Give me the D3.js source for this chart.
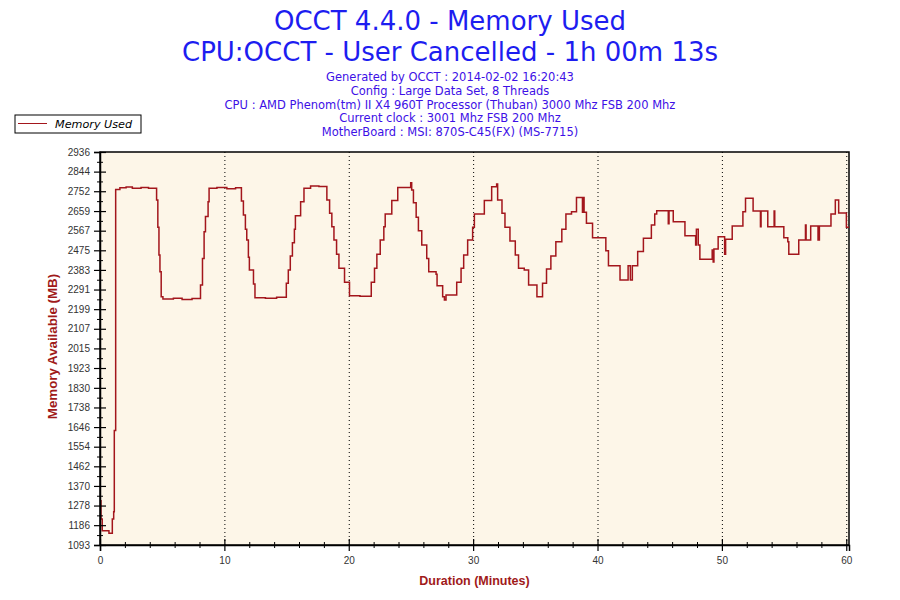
<!DOCTYPE html>
<html>
<head>
<meta charset="utf-8">
<style>
  body { margin: 0; background: #fff; }
  svg { display: block; }
  .tick text { font-family: 'Liberation Sans', Arial, sans-serif; font-size: 10px; fill: #333; }
</style>
</head>
<body>
<svg width="900" height="600"></svg>

<script src="https://d3js.org/d3.v7.min.js"></script>
<script>
// chart texts
const titleLines = ["OCCT 4.4.0 - Memory Used", "CPU:OCCT - User Cancelled - 1h 00m 13s"];
const infoLines = [
  "Generated by OCCT : 2014-02-02 16:20:43",
  "Config : Large Data Set, 8 Threads",
  "CPU : AMD Phenom(tm) II X4 960T Processor (Thuban) 3000 Mhz FSB 200 Mhz",
  "Current clock : 3001 Mhz FSB 200 Mhz",
  "MotherBoard : MSI: 870S-C45(FX) (MS-7715)"
];
const seriesName = "Memory Used";
const xTitle = "Duration (Minutes)";
const yTitle = "Memory Available (MB)";

// tick labels
const yTicks = [1093, 1186, 1278, 1370, 1462, 1554, 1646, 1738, 1830, 1923, 2015,
                2107, 2199, 2291, 2383, 2475, 2567, 2659, 2752, 2844, 2936];
const xTicks = [0, 10, 20, 30, 40, 50, 60];
const xMax = 60.22; // 1h 00m 13s

// samples: minute, MB (step line)
const minutes = [
  0.00, 0.02, 0.08, 0.18, 0.72, 0.99, 1.10, 1.15, 1.26, 1.60, 2.10, 2.60, 3.30, 3.90, 4.52,
  4.55, 4.65, 4.74, 4.82, 4.92, 5.06, 5.90, 6.60, 7.40, 8.08, 8.24, 8.37, 8.48, 8.69, 8.77,
  9.40, 10.20, 10.90, 11.37, 11.53, 11.69, 11.80, 11.93, 12.01, 12.34, 12.46, 13.30, 14.20, 14.98,
  15.14, 15.30, 15.47, 15.63, 15.71, 16.13, 16.40, 16.93, 17.60, 18.24, 18.46, 18.64, 18.81,
  19.02, 19.21, 19.66, 20.06, 20.90, 21.81, 22.07, 22.26, 22.53, 22.82, 22.93, 23.46, 23.94,
  24.98, 25.06, 25.20, 25.42, 25.60, 25.87, 26.27, 26.43, 27.02, 27.10, 27.55, 27.69, 27.82,
  28.68, 29.03, 29.24, 29.56, 29.96, 30.10, 30.90, 31.49, 31.89, 31.97, 32.32, 32.56, 32.96,
  33.39, 33.65, 34.11, 34.46, 35.13, 35.58, 35.90, 36.25, 36.65, 37.13, 37.46, 37.91, 38.31,
  38.79, 38.84, 38.92, 39.11, 39.60, 40.00, 40.67, 40.88, 41.81, 42.46, 42.64, 42.80, 43.23,
  43.69, 44.33, 44.60, 44.76, 45.69, 45.75, 46.09, 47.03, 47.89, 47.95, 48.10, 48.23, 49.22,
  49.30, 49.36, 49.70, 50.22, 50.30, 50.83, 51.69, 51.90, 52.51, 53.10, 53.15, 53.69, 54.20,
  54.25, 54.98, 55.30, 55.38, 56.18, 56.72, 56.77, 57.14, 57.73, 57.84, 58.77, 59.12, 59.39,
  60.01, 60.22
];
const memory = [
  1300, 1300, 1215, 1160, 1148, 1215, 1249, 1630, 2760, 2768, 2772, 2766, 2770, 2766, 2766,
  2711, 2583, 2453, 2375, 2257, 2247, 2250, 2244, 2249, 2312, 2437, 2562, 2633, 2703, 2766,
  2770, 2764, 2768, 2706, 2641, 2574, 2523, 2442, 2383, 2317, 2253, 2250, 2255, 2320,
  2383, 2448, 2511, 2574, 2637, 2703, 2766, 2777, 2774, 2711, 2649, 2586, 2523,
  2456, 2391, 2325, 2262, 2260, 2325, 2391, 2456, 2523, 2586, 2645, 2708, 2770,
  2792, 2758, 2698, 2630, 2567, 2500, 2437, 2375, 2363, 2309, 2257, 2242, 2265,
  2325, 2391, 2453, 2523, 2583, 2645, 2708, 2773, 2786, 2711, 2649, 2583, 2519,
  2453, 2391, 2383, 2312, 2257, 2320, 2387, 2448, 2515, 2574, 2645, 2656, 2723,
  2654, 2723, 2654, 2602, 2534, 2534, 2473, 2403, 2336, 2403, 2336, 2403, 2469,
  2531, 2594, 2645, 2661, 2600, 2661, 2609, 2543, 2500, 2574, 2500, 2433, 2476,
  2420, 2481, 2539, 2456, 2527, 2589, 2656, 2719, 2659, 2586, 2659, 2586, 2659,
  2586, 2534, 2515, 2456, 2523, 2594, 2523, 2589, 2523, 2589, 2645, 2711, 2650,
  2583, 2583
];

const svg = d3.select("svg");
const margin = { left: 100, right: 51, top: 152, bottom: 55 };
const width = 900, height = 600;

const x = d3.scaleLinear().domain([0, xMax]).range([margin.left, width - margin.right]);
const y = d3.scaleLinear().domain([yTicks[0], yTicks[yTicks.length - 1]]).range([height - margin.bottom, margin.top]);

// titles
svg.selectAll(".title")
  .data(titleLines)
  .join("text")
  .attr("x", 450)
  .attr("y", (d, i) => 30 + i * 31)
  .attr("text-anchor", "middle")
  .style("font-family", "'DejaVu Sans', Verdana, sans-serif")
  .style("font-size", "26px")
  .style("fill", "#1d1df0")
  .text(d => d);

svg.selectAll(".info")
  .data(infoLines)
  .join("text")
  .attr("x", 450)
  .attr("y", (d, i) => 81 + i * 13.8)
  .attr("text-anchor", "middle")
  .style("font-family", "'DejaVu Sans', Verdana, sans-serif")
  .style("font-size", "11.5px")
  .style("fill", "#3d10e6")
  .text(d => d);

// plot background
svg.append("rect")
  .attr("x", x(0))
  .attr("y", y.range()[1])
  .attr("width", x(xMax) - x(0))
  .attr("height", y.range()[0] - y.range()[1])
  .attr("fill", "#fdf6e8");

// dotted grid lines
svg.append("g")
  .selectAll("line")
  .data(xTicks.filter(d => d > 0))
  .join("line")
  .attr("x1", d => x(d) + 0.5)
  .attr("x2", d => x(d) + 0.5)
  .attr("y1", y.range()[1])
  .attr("y2", y.range()[0])
  .attr("stroke", "#000")
  .attr("stroke-dasharray", "1,3");

// frame
svg.append("rect")
  .attr("x", x(0))
  .attr("y", y.range()[1])
  .attr("width", x(xMax) - x(0))
  .attr("height", y.range()[0] - y.range()[1])
  .attr("fill", "none")
  .attr("stroke", "#000")
  .attr("stroke-width", 1.5);

// data line
const points = minutes.map((m, i) => [m, memory[i]]);
const line = d3.line()
  .x(d => x(d[0]))
  .y(d => y(d[1]))
  .curve(d3.curveStepAfter);

svg.append("path")
  .datum(points)
  .attr("d", line)
  .attr("fill", "none")
  .attr("stroke", "#a3161c")
  .attr("stroke-width", 1.5);

// y axis
const yMinor = d3.pairs(yTicks).map(p => (p[0] + p[1]) / 2);
svg.append("g")
  .attr("transform", `translate(${x(0)},0)`)
  .call(d3.axisLeft(y).tickValues(yMinor).tickSize(3).tickFormat(""))
  .call(g => g.selectAll(".tick line").attr("x2", 3).attr("x1", -3))
  .call(g => g.select(".domain").remove());

svg.append("g")
  .attr("transform", `translate(${x(0)},0)`)
  .call(d3.axisLeft(y).tickValues(yTicks).tickSize(6).tickPadding(4).tickFormat(d3.format("d")))
  .call(g => g.selectAll(".tick line").attr("x2", 6).attr("x1", -6).attr("stroke-width", 1.2))
  .call(g => g.select(".domain").attr("stroke-width", 1.5));

// x axis
const xMinor = d3.range(0, 61, 2).filter(d => d % 10 !== 0);
svg.append("g")
  .attr("transform", `translate(0,${y.range()[0]})`)
  .call(d3.axisBottom(x).tickValues(xMinor).tickFormat(""))
  .call(g => g.selectAll(".tick line").attr("y1", -3).attr("y2", 3))
  .call(g => g.select(".domain").remove());

svg.append("g")
  .attr("transform", `translate(0,${y.range()[0]})`)
  .call(d3.axisBottom(x).tickValues(xTicks).tickSize(6).tickPadding(6))
  .call(g => g.selectAll(".tick line").attr("y1", -6).attr("y2", 6).attr("stroke-width", 1.2))
  .call(g => g.select(".domain").attr("stroke-width", 1.5));

// axis titles
svg.append("text")
  .attr("x", (x(0) + x(xMax)) / 2)
  .attr("y", 585)
  .attr("text-anchor", "middle")
  .style("font-family", "'Liberation Sans', Arial, sans-serif")
  .style("font-size", "12.5px")
  .style("font-weight", "bold")
  .style("fill", "#a01a1a")
  .text(xTitle);

svg.append("text")
  .attr("transform", `translate(57,${(y.range()[0] + y.range()[1]) / 2 - 2}) rotate(-90)`)
  .attr("text-anchor", "middle")
  .style("font-family", "'Liberation Sans', Arial, sans-serif")
  .style("font-size", "13.3px")
  .style("font-weight", "bold")
  .style("fill", "#a01a1a")
  .text(yTitle);

// legend
const legend = svg.append("g").attr("transform", "translate(15,115)");
legend.append("rect")
  .attr("width", 126).attr("height", 18)
  .attr("fill", "#fff").attr("stroke", "#000");
legend.append("line")
  .attr("x1", 3).attr("x2", 32).attr("y1", 8.5).attr("y2", 8.5)
  .attr("stroke", "#a3161c");
legend.append("text")
  .attr("x", 40).attr("y", 12.5)
  .style("font-family", "'DejaVu Sans', Verdana, sans-serif")
  .style("font-size", "11.2px")
  .style("font-style", "italic")
  .style("fill", "#000")
  .text(seriesName);
</script>
</body>
</html>
